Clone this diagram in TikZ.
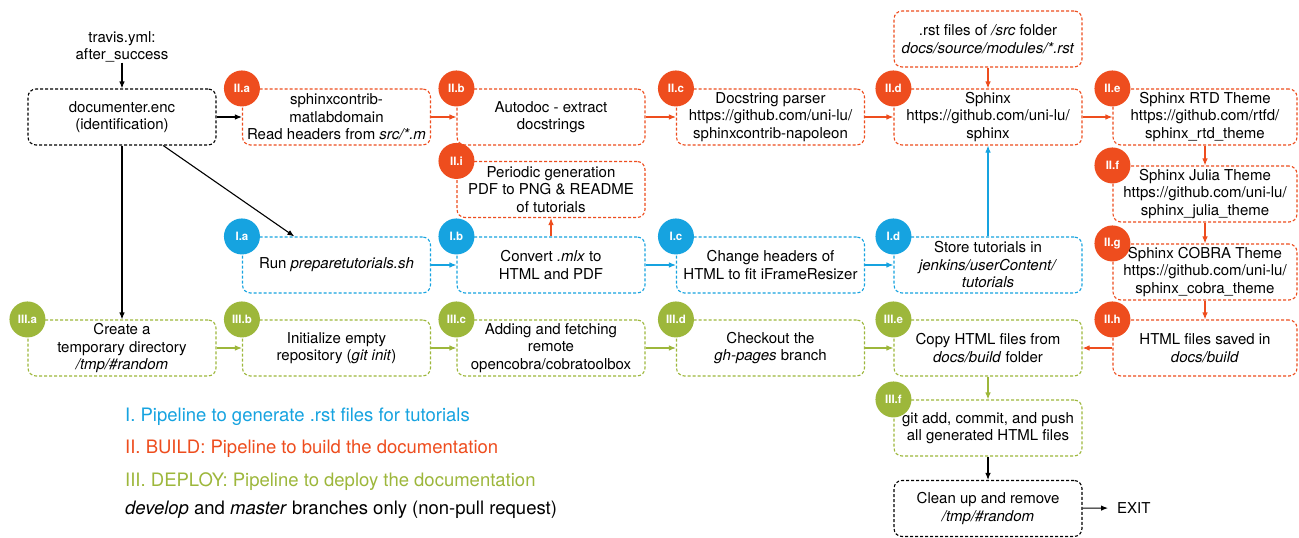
\documentclass[tikz,border=0pt]{standalone}
\usepackage{fontspec}
\setmainfont{TeX Gyre Heros}
\usetikzlibrary{arrows.meta,calc}
\definecolor{cO}{RGB}{238,77,30}
\definecolor{cB}{RGB}{22,163,224}
\definecolor{cG}{RGB}{157,183,59}
\begin{document}
\begin{tikzpicture}[x=1pt,y=-1pt,
  box/.style={draw=#1, dash pattern=on 3pt off 2pt, line width=1.1pt, rounded corners=8pt,
    minimum width=188pt, minimum height=56pt, inner sep=0pt, align=center,
    font=\fontsize{15}{17.5}\selectfont},
  circ/.style={circle, fill=#1, minimum size=36pt, inner sep=0pt, text=white,
    font=\bfseries\fontsize{11.5}{12}\selectfont},
  arr/.style={draw=#1, line width=1.1pt, -{Latex[length=7pt,width=5.5pt]}},
  plain/.style={inner sep=0pt, align=center, font=\fontsize{15}{17.5}\selectfont},
  leg/.style={inner sep=0pt, anchor=base west, font=\fontsize{18.5}{22}\selectfont}
]
\fill[white] (0,0) rectangle (1299,538);
\useasboundingbox (0,0) rectangle (1299,538);

% black boxes
\node[plain] (travis) at (122,47) {travis.yml:\\after\_success};
\node[box=black] (doc) at (122,117) {documenter.enc\\(identification)};
\node[box=black] (clean) at (988,508.5) {Clean up and remove\\\textit{/tmp/\#random}};
\node[plain, anchor=west, inner xsep=9pt] (exit) at (1108,508) {EXIT};

% II boxes
\node[box=cO] (IIa) at (336.5,117) {sphinxcontrib-\\matlabdomain\\Read headers from \textit{src/*.m}};
\node[box=cO] (IIb) at (551,117) {Autodoc - extract\\docstrings};
\node[box=cO] (IIc) at (770.5,117) {Docstring parser\\https://github.com/uni-lu/\\sphinxcontrib-napoleon};
\node[box=cO] (IId) at (988,117) {Sphinx\\https://github.com/uni-lu/\\sphinx};
\node[box=cO] (rst) at (988,39) {.rst files of \textit{/src} folder\\\textit{docs/source/modules/*.rst}};
\node[box=cO, minimum width=184pt] (IIe) at (1205,117) {Sphinx RTD Theme\\https://github.com/rtfd/\\sphinx\_rtd\_theme};
\node[box=cO, minimum width=184pt] (IIf) at (1205,194) {Sphinx Julia Theme\\https://github.com/uni-lu/\\sphinx\_julia\_theme};
\node[box=cO, minimum width=184pt] (IIg) at (1205,272) {Sphinx COBRA Theme\\https://github.com/uni-lu/\\sphinx\_cobra\_theme};
\node[box=cO, minimum width=184pt] (IIh) at (1205,348) {HTML files saved in\\\textit{docs/build}};
\node[box=cO] (IIi) at (551,189.5) {Periodic generation\\PDF to PNG \& README\\of tutorials};

% I boxes
\node[box=cB] (Ia) at (336.5,265) {Run \textit{preparetutorials.sh}};
\node[box=cB] (Ib) at (551,265) {Convert \textit{.mlx} to\\HTML and PDF};
\node[box=cB] (Ic) at (770.5,265) {Change headers of\\HTML to fit iFrameResizer};
\node[box=cB] (Id) at (988,265) {Store tutorials in\\\textit{jenkins/userContent/}\\\textit{tutorials}};

% III boxes
\node[box=cG] (IIIa) at (122,348) {Create a\\temporary directory\\\textit{/tmp/\#random}};
\node[box=cG] (IIIb) at (336.5,348) {Initialize empty\\repository (\textit{git init})};
\node[box=cG] (IIIc) at (551,348) {Adding and fetching\\remote\\opencobra/cobratoolbox};
\node[box=cG] (IIId) at (770.5,348) {Checkout the\\\textit{gh-pages} branch};
\node[box=cG] (IIIe) at (988,348) {Copy HTML files from\\\textit{docs/build} folder};
\node[box=cG] (IIIf) at (988,428) {git add, commit, and push\\all generated HTML files};

% connectors black
\draw[arr=black] (travis) -- (doc);
\draw[arr=black] (doc) -- (IIa);
\draw[arr=black] (doc.south) -- (IIIa.north);
\draw[arr=black] ($(doc.south west)!0.718!(doc.south east)$) -- ($(Ia.north west)!0.277!(Ia.north east)$);
\draw[arr=black] (IIIf) -- (clean);
\draw[arr=black] (clean) -- (exit);

% connectors orange
\draw[arr=cO] (IIa) -- (IIb);
\draw[arr=cO] (IIb) -- (IIc);
\draw[arr=cO] (IIc) -- (IId);
\draw[arr=cO] (IId) -- (IIe);
\draw[arr=cO] (rst) -- (IId);
\draw[arr=cO] (IIe) -- (IIf);
\draw[arr=cO] (IIf) -- (IIg);
\draw[arr=cO] (IIg) -- (IIh);
\draw[arr=cO] (IIh) -- (IIIe);
\draw[arr=cO] (Ib) -- (IIi);

% connectors blue
\draw[arr=cB] (Ia) -- (Ib);
\draw[arr=cB] (Ib) -- (Ic);
\draw[arr=cB] (Ic) -- (Id);
\draw[arr=cB] (Id) -- (IId);

% connectors green
\draw[arr=cG] (IIIa) -- (IIIb);
\draw[arr=cG] (IIIb) -- (IIIc);
\draw[arr=cG] (IIIc) -- (IIId);
\draw[arr=cG] (IIId) -- (IIIe);
\draw[arr=cG] (IIIe) -- (IIIf);

% circles
\node[circ=cO] (cIIa) at (IIa.north west) {II.a};
\node[circ=cO] (cIIb) at (IIb.north west) {II.b};
\node[circ=cO] (cIIc) at (IIc.north west) {II.c};
\node[circ=cO] (cIId) at (IId.north west) {II.d};
\node[circ=cO] (cIIe) at (IIe.north west) {II.e};
\node[circ=cO] (cIIf) at (IIf.north west) {II.f};
\node[circ=cO] (cIIg) at (IIg.north west) {II.g};
\node[circ=cO] (cIIh) at (IIh.north west) {II.h};
\node[circ=cO] (cIIi) at (IIi.north west) {II.i};
\node[circ=cB] (cIa) at (Ia.north west) {I.a};
\node[circ=cB] (cIb) at (Ib.north west) {I.b};
\node[circ=cB] (cIc) at (Ic.north west) {I.c};
\node[circ=cB] (cId) at (Id.north west) {I.d};
\node[circ=cG] (cIIIa) at (IIIa.north west) {III.a};
\node[circ=cG] (cIIIb) at (IIIb.north west) {III.b};
\node[circ=cG] (cIIIc) at (IIIc.north west) {III.c};
\node[circ=cG] (cIIId) at (IIId.north west) {III.d};
\node[circ=cG] (cIIIe) at (IIIe.north west) {III.e};
\node[circ=cG] (cIIIf) at (IIIf.north west) {III.f};

% legend
\node[leg, text=cB] (leg1) at (125,421) {I. Pipeline to generate .rst files for tutorials};
\node[leg, text=cO] (leg2) at (125,453) {II. BUILD: Pipeline to build the documentation};
\node[leg, text=cG] (leg3) at (125,486) {III. DEPLOY: Pipeline to deploy the documentation};
\node[leg] (leg4) at (125,514) {\textit{develop} and \textit{master} branches only (non-pull request)};
\end{tikzpicture}
\end{document}
